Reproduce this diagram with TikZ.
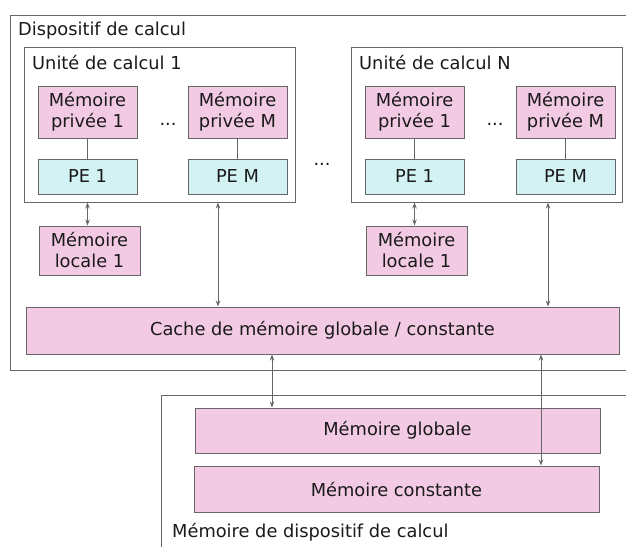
\documentclass[tikz,border=0pt]{standalone}
\usepackage{fontspec}
\setmainfont{DejaVu Sans}
\usetikzlibrary{arrows.meta}
\definecolor{mempink}{HTML}{F2CAE3}
\definecolor{pecyan}{HTML}{D3F2F4}
\definecolor{edge}{HTML}{666666}
\definecolor{ink}{HTML}{1A1A1A}
\begin{document}
\begin{tikzpicture}[x=1pt,y=-1pt,
  every node/.style={font=\fontsize{17.8}{21}\selectfont, text=ink, inner sep=0pt},
  container/.style={draw=edge, line width=1.2pt, fill=white},
  unitbox/.style={draw=edge, line width=1pt, fill=white, minimum width=271pt, minimum height=155pt},
  membox/.style={draw=edge, line width=1pt, fill=mempink, align=center},
  pebox/.style={draw=edge, line width=1pt, fill=pecyan, minimum width=99pt, minimum height=35pt},
  privbox/.style={membox, minimum width=99pt, minimum height=52pt},
  localbox/.style={membox, minimum width=101pt, minimum height=49pt},
  widebox/.style={membox, minimum width=405pt, minimum height=45pt},
  link/.style={draw=edge, line width=1pt},
  biarrow/.style={link, {Stealth[length=6pt,width=4.5pt]}-{Stealth[length=6pt,width=4.5pt]}},
  label/.style={anchor=west},
]
\useasboundingbox (0,0) rectangle (626,546);

% compute device
\node[container, minimum width=640pt, minimum height=355pt, anchor=north west] (dev) at (10,15) {};
\node[label] (devlabel) at (18,31) {Dispositif de calcul};

% compute units
\node[unitbox] (u1) at (159.5,124.5) {};
\node[label] (u1label) at (32,63) {Unité de calcul 1};
\node[unitbox] (uN) at (486.5,124.5) {};
\node[label] (uNlabel) at (359,63) {Unité de calcul N};

% private memories and processing elements, unit 1
\node[privbox] (u1m1) at (87.5,112) {Mémoire\\privée 1};
\node[privbox] (u1mM) at (237.5,112) {Mémoire\\privée M};
\node (u1dots) at (168,124) {...};
\node[pebox] (u1p1) at (87.5,176.5) {PE 1};
\node[pebox] (u1pM) at (237.5,176.5) {PE M};
\draw[link] (u1m1) -- (u1p1);
\draw[link] (u1mM) -- (u1pM);

% private memories and processing elements, unit N
\node[privbox] (uNm1) at (414.5,112) {Mémoire\\privée 1};
\node[privbox] (uNmM) at (565.5,112) {Mémoire\\privée M};
\node (uNdots) at (495,124) {...};
\node[pebox] (uNp1) at (414.5,176.5) {PE 1};
\node[pebox] (uNpM) at (565.5,176.5) {PE M};
\draw[link] (uNm1) -- (uNp1);
\draw[link] (uNmM) -- (uNpM);

\node (udots) at (322,164) {...};

% local memories
\node[localbox] (loc1) at (89.5,250.5) {Mémoire\\locale 1};
\node[localbox] (locN) at (416.5,250.5) {Mémoire\\locale 1};
\draw[biarrow] (u1p1.center |- u1.south) -- (u1p1.center |- loc1.north);
\draw[biarrow] (uNp1.center |- uN.south) -- (uNp1.center |- locN.north);

% global / constant cache
\node[membox, minimum width=593pt, minimum height=47pt] (cache) at (322.5,330.5) {Cache de mémoire globale / constante};
\coordinate (x1) at (218,0);
\coordinate (xN) at (548,0);
\draw[biarrow] (x1 |- cache.north) -- (x1 |- u1.south);
\draw[biarrow] (xN |- cache.north) -- (xN |- uN.south);

% device memory
\node[container, minimum width=480pt, minimum height=170pt, anchor=north west] (devmem) at (161,395) {};
\node[label] (devmemlabel) at (172,532) {Mémoire de dispositif de calcul};
\node[widebox] (glob) at (397.5,430.5) {Mémoire globale};
\node[widebox, minimum height=46pt] (const) at (396.5,489) {Mémoire constante};
\coordinate (xg) at (272,0);
\coordinate (xc) at (541,0);
\draw[biarrow] (xg |- cache.south) -- (xg |- glob.north);
\draw[biarrow] (xc |- cache.south) -- (xc |- const.north);
\end{tikzpicture}
\end{document}
